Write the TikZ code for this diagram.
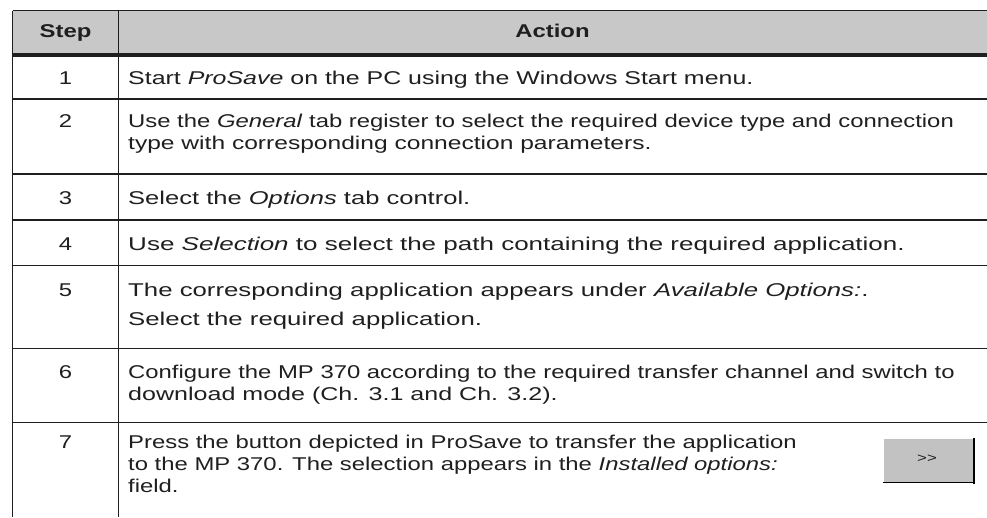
\documentclass[tikz,border=0pt]{standalone}
\usepackage{fontspec}
\usepackage{graphicx}
\setmainfont[FakeStretch=1.29]{Liberation Sans}
\usetikzlibrary{positioning}
\definecolor{headgray}{rgb}{0.784, 0.784, 0.784}
\definecolor{ink}{rgb}{0.12, 0.12, 0.12}
\definecolor{btngray}{rgb}{0.76, 0.76, 0.76}
\tikzstyle{cell}=[inner sep=0pt,text=ink,font=\fontsize{18.5}{22}\selectfont]
\tikzstyle{stepnum}=[cell,anchor=base]
\tikzstyle{actiontext}=[cell,anchor=base west,align=left]
\tikzstyle{headtext}=[cell,anchor=base,font=\fontsize{18.5}{22}\selectfont\bfseries]
\tikzstyle{rule}=[line width=1.3pt,draw=ink]
\newcommand{\tablerule}[1]{
  \draw[rule] (12.7, #1) -- (987, #1);
}
\newcommand{\wideline}[2]{\scalebox{#1}[1]{#2}}

\begin{document}
\begin{tikzpicture}[x=1pt,y=-1pt]
\useasboundingbox (0,0) rectangle (987,517);

% header
\fill[headgray] (12.7,10.7) rectangle (987,54.8);
\node[headtext] (hstep) at (65.5,37.5) {Step};
\node[headtext] (haction) at (552.5,37.5) {Action};

% rules
\tablerule{10.7}
\draw[draw=ink,line width=3.5pt] (12.7,54.8) -- (987,54.8);
\tablerule{99}
\tablerule{174}
\tablerule{220}
\tablerule{265.7}
\tablerule{348.3}
\tablerule{422.7}
\draw[rule] (12.7,10.7) -- (12.7,517);
\draw[rule] (118.3,10.7) -- (118.3,517);

% step numbers
\node[stepnum] (step1) at (65.5,84) {1};
\node[stepnum] (step2) at (65.5,127) {2};
\node[stepnum] (step3) at (65.5,204) {3};
\node[stepnum] (step4) at (65.5,250) {4};
\node[stepnum] (step5) at (65.5,296) {5};
\node[stepnum] (step6) at (65.5,378) {6};
\node[stepnum] (step7) at (65.5,448) {7};

% actions (anchor is the baseline of the last line)
\node[actiontext,xscale=1.045] (act1) at (128,84) {Start \textit{ProSave} on the PC using the Windows Start menu.};
\node[actiontext] (act2) at (128,149) {Use the \textit{General} tab register to select the required device type and connection\\
  \wideline{1.03}{type with corresponding connection parameters.}};
\node[actiontext,xscale=1.07] (act3) at (128,204) {Select the \textit{Options} tab control.};
\node[actiontext,xscale=1.09] (act4) at (128,250) {Use \textit{Selection} to select the path containing the required application.};
\node[actiontext,xscale=1.08] (act5) at (128,325) {The corresponding application appears under \textit{Available Options:}.\\[7pt]
  Select the required application.};
\node[actiontext] (act6) at (128,400) {Configure the MP 370 according to the required transfer channel and switch to\\
  \wideline{1.05}{download mode (Ch. 3.1 and Ch. 3.2).}};
\node[actiontext] (act7) at (128,492) {Press the button depicted in ProSave to transfer the application\\
  to the MP 370. The selection appears in the \textit{Installed options:}\\
  field.};

% button
\fill[btngray] (883,438) rectangle (975,483);
\draw[white,line width=1pt] (883,483) -- (883,438) -- (975,438);
\draw[black,line width=1.8pt] (883,482.5) -- (975,482.5);
\draw[black,line width=2.5pt] (974,438) -- (974,483.5);
\node[cell,font=\fontsize{13}{13}\selectfont] (btn) at (927,459) {{>}{>}};

\end{tikzpicture}
\end{document}
